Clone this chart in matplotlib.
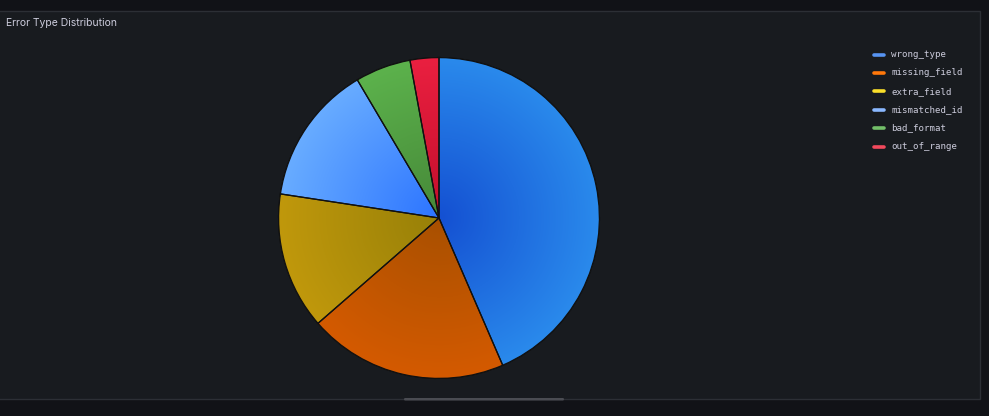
import numpy as np
import matplotlib.pyplot as plt
from matplotlib.patches import Rectangle, FancyBboxPatch, Wedge
from matplotlib.colors import to_rgb

labels = ["wrong_type", "missing_field", "extra_field", "mismatched_id", "bad_format", "out_of_range"]
counts = [435, 201, 138, 141, 56, 29]
legend_colors = ["#5794f2", "#ff780a", "#fade2a", "#8ab8ff", "#73bf69", "#f2495c"]
inner_colors = ["#1450d2", "#a85000", "#978008", "#2c74ff", "#468838", "#c40e2c"]
outer_colors = ["#2a8aec", "#d45a00", "#c0980c", "#68acff", "#5cb24c", "#ea2040"]

W, H = 989, 416
fig = plt.figure(figsize=(W / 100, H / 100), dpi=100)
fig.patch.set_facecolor("#111217")

# panel background
bg = fig.add_axes([0, 0, 1, 1])
bg.set_xlim(0, W)
bg.set_ylim(H, 0)
bg.axis("off")
bg.add_patch(Rectangle((-2, 11), 982, 388, facecolor="#181b1f", edgecolor="#2c2f35", lw=1))
bg.add_patch(FancyBboxPatch((404, 398), 160, 2.5, boxstyle="round,pad=0,rounding_size=1.2",
                            facecolor="#4a4c52", edgecolor="none"))
bg.text(6, 23.5, "Error Type Distribution", color="#ccccdc", fontsize=7.5,
        family=["Inter", "DejaVu Sans"], va="center", ha="left")

# legend
for i, (lab, col) in enumerate(zip(labels, legend_colors)):
    y = 54.5 + i * 18.4
    bg.plot([874, 884], [y, y], color=col, lw=2.6, solid_capstyle="round")
    bg.text(891, y, lab, color="#ccccdc", fontsize=6.6, family=["DejaVu Sans Mono"],
            va="center", ha="left")

# pie
cx, cy, r = 439, 218, 162
ax = fig.add_axes([(cx - r) / W, (H - cy - r) / H, 2 * r / W, 2 * r / H])
ax.axis("off")
wedges, _ = ax.pie(counts, startangle=90, counterclock=False, radius=1,
                   colors=outer_colors,
                   wedgeprops=dict(edgecolor="#111111", linewidth=0.9))

# radial gradient inside each slice
n = 400
xs = np.linspace(-1, 1, n)
X, Y = np.meshgrid(xs, xs)
R = np.clip(np.sqrt(X ** 2 + Y ** 2), 0, 1)[..., None]
for w, ci, co in zip(wedges, inner_colors, outer_colors):
    a = np.array(to_rgb(ci))
    b = np.array(to_rgb(co))
    img = a + (b - a) * R
    im = ax.imshow(img, extent=(-1, 1, -1, 1), origin="lower", zorder=w.get_zorder() + 0.1)
    im.set_clip_path(w)
    ax.add_patch(Wedge(w.center, w.r, w.theta1, w.theta2, facecolor="none",
                       edgecolor="#111111", lw=0.9, zorder=w.get_zorder() + 0.2))

ax.set_xlim(-1.01, 1.01)
ax.set_ylim(-1.01, 1.01)

fig.savefig("out.png", dpi=100, facecolor=fig.get_facecolor())
